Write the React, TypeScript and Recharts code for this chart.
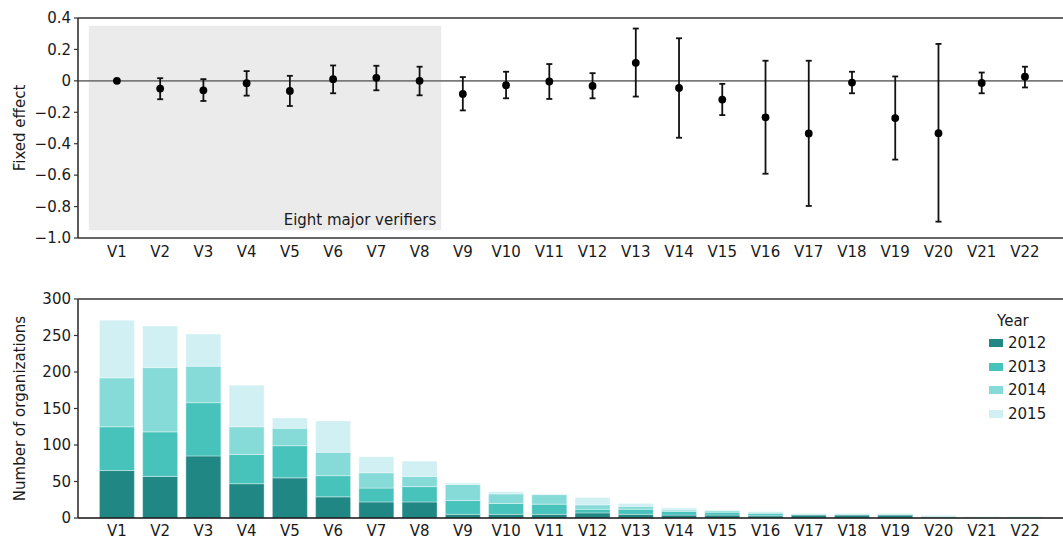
import React from 'react';
import {
  ComposedChart,
  BarChart,
  Bar,
  Scatter,
  ErrorBar,
  XAxis,
  YAxis,
  ReferenceArea,
  ReferenceLine,
  Legend,
} from 'recharts';

const verifiers = ['V1','V2','V3','V4','V5','V6','V7','V8','V9','V10','V11','V12','V13','V14','V15','V16','V17','V18','V19','V20','V21','V22'];

const effect = [0, -0.049, -0.06, -0.015, -0.064, 0.011, 0.019, 0, -0.083, -0.028, -0.004, -0.032, 0.115, -0.045, -0.119, -0.232, -0.335, -0.011, -0.237, -0.333, -0.013, 0.026];
const lower = [0, -0.117, -0.128, -0.094, -0.16, -0.079, -0.06, -0.092, -0.188, -0.111, -0.115, -0.111, -0.1, -0.362, -0.218, -0.591, -0.796, -0.079, -0.501, -0.896, -0.079, -0.042];
const upper = [0, 0.017, 0.011, 0.062, 0.032, 0.098, 0.096, 0.09, 0.024, 0.058, 0.107, 0.049, 0.333, 0.271, -0.019, 0.128, 0.128, 0.058, 0.028, 0.235, 0.053, 0.09];

const effectTicks = [0.4, 0.2, 0, -0.2, -0.4, -0.6, -0.8, -1.0];

const years = ['2012', '2013', '2014', '2015'];
const y2012 = [65, 57, 85, 47, 55, 29, 22, 22, 5, 5, 5, 7, 5, 4, 4, 3, 4, 4, 4, 1, 0, 0];
const y2013 = [60, 61, 73, 40, 44, 29, 19, 21, 19, 15, 14, 5, 7, 5, 4, 3, 1, 1, 1, 1, 0, 0];
const y2014 = [67, 88, 50, 38, 24, 32, 21, 14, 22, 13, 13, 6, 4, 2, 2, 2, 0, 0, 0, 1, 1, 1];
const y2015 = [79, 57, 44, 57, 14, 43, 22, 21, 2, 3, 1, 10, 4, 3, 1, 1, 1, 1, 1, 1, 1, 1];
const countTicks = [0, 50, 100, 150, 200, 250, 300];

const yearColors = ['#208784', '#48c3bc', '#86dbd8', '#d0f0f4'];

const effectData = verifiers.map((name, i) => ({
  idx: i + 1,
  name,
  effect: effect[i],
  err: [effect[i] - lower[i], upper[i] - effect[i]],
}));

const countData = verifiers.map((name, i) => ({
  name,
  '2012': y2012[i],
  '2013': y2013[i],
  '2014': y2014[i],
  '2015': y2015[i],
}));

const FONT = '"DejaVu Sans", "Liberation Sans", Arial, sans-serif';
const FS = 15;
const AXIS = '#333333';
const TEXT = '#1a1a1a';

const fmtEffect = (v: number) => {
  if (Math.abs(v) < 1e-9) return '0';
  const s = Math.abs(v).toFixed(1);
  return v < 0 ? '\u2212' + s : s;
};

const renderLegend = (props: any) => {
  const payload = (props.payload || []) as any[];
  return (
    <div style={{ fontFamily: FONT, color: TEXT, fontSize: FS }}>
      <div style={{ textAlign: 'left', paddingLeft: 8, lineHeight: '20px', height: 20 }}>Year</div>
      {payload.map((p: any) => (
        <div key={p.value} style={{ display: 'flex', alignItems: 'center', height: 23.7 }}>
          <span style={{ display: 'inline-block', width: 14, height: 8, background: p.color, marginRight: 5 }} />
          <span style={{ lineHeight: '18px' }}>{p.value}</span>
        </div>
      ))}
    </div>
  );
};

const Dot = (p: any) => <circle cx={p.cx} cy={p.cy} r={3.9} fill="#000" />;

export default function App() {
  return (
    <div style={{ position: 'absolute', left: 0, top: 0, width: 1063, height: 541, background: '#fff', fontFamily: FONT }}>
      <ComposedChart
        width={1063}
        height={260}
        data={effectData}
        margin={{ top: 18, right: 0, bottom: 0, left: 0 }}
      >
        <XAxis
          dataKey="idx"
          type="number"
          domain={[0.1, 22.88]}
          allowDataOverflow
          ticks={verifiers.map((_, i) => i + 1)}
          tickFormatter={(v: number) => verifiers[v - 1]}
          interval={0}
          height={22}
          tickSize={4}
          tickMargin={4}
          tickLine={false}
          axisLine={{ stroke: AXIS, strokeWidth: 1.6 }}
          tick={{ fill: TEXT, fontSize: FS }}
        />
        <YAxis
          dataKey="effect"
          type="number"
          domain={[-1, 0.4]}
          allowDataOverflow
          ticks={effectTicks}
          tickFormatter={fmtEffect}
          interval={0}
          width={78}
          tickSize={4}
          tickMargin={3}
          tickLine={{ stroke: AXIS, strokeWidth: 1.2 }}
          axisLine={{ stroke: AXIS, strokeWidth: 1.6 }}
          tick={{ fill: TEXT, fontSize: FS }}
          label={{ value: 'Fixed effect', angle: -90, position: 'center', dx: -19, fill: TEXT, fontSize: FS }}
        />
        <ReferenceArea
          x1={0.35}
          x2={8.5}
          y1={-0.95}
          y2={0.35}
          fill="#ebebeb"
          fillOpacity={1}
          stroke="none"
          label={{ value: 'Eight major verifiers', position: 'insideBottomRight', offset: 5, fill: TEXT, fontSize: FS }}
        />
        <ReferenceLine y={0} stroke="#7a7a7a" strokeWidth={1.6} />
        <ReferenceLine y={0.4} stroke={AXIS} strokeWidth={1.6} />
        <Scatter dataKey="effect" fill="#000" shape={Dot} isAnimationActive={false}>
          <ErrorBar dataKey="err" direction="y" width={3} stroke="#111" strokeWidth={1.8} isAnimationActive={false} />
        </Scatter>
      </ComposedChart>

      <BarChart
        width={1063}
        height={281}
        data={countData}
        margin={{ top: 39, right: 0, bottom: 0, left: 0 }}
        barCategoryGap={4}
      >
        <XAxis
          dataKey="name"
          interval={0}
          padding={{ left: 17.4, right: 16.3 }}
          height={23}
          tickSize={4}
          tickMargin={3}
          tickLine={false}
          axisLine={{ stroke: '#111', strokeWidth: 1.6 }}
          tick={{ fill: TEXT, fontSize: FS }}
        />
        <YAxis
          type="number"
          domain={[0, 300]}
          ticks={countTicks}
          interval={0}
          width={78}
          tickSize={4}
          tickMargin={3}
          tickLine={{ stroke: AXIS, strokeWidth: 1.2 }}
          axisLine={{ stroke: AXIS, strokeWidth: 1.6 }}
          tick={{ fill: TEXT, fontSize: FS }}
          label={{ value: 'Number of organizations', angle: -90, position: 'center', dx: -19, fill: TEXT, fontSize: FS }}
        />
        <ReferenceLine y={300} stroke={AXIS} strokeWidth={1.6} />
        {years.map((y, i) => (
          <Bar
            key={y}
            dataKey={y}
            name={y}
            stackId="a"
            fill={yearColors[i]}
            stroke="rgba(255,255,255,0.45)"
            strokeWidth={0.8}
            isAnimationActive={false}
          />
        ))}
        <Legend
          layout="vertical"
          align="center"
          verticalAlign="middle"
          content={renderLegend}
          wrapperStyle={{ position: 'absolute', left: 989, top: 51, width: 74, height: 115 }}
        />
      </BarChart>
    </div>
  );
}
